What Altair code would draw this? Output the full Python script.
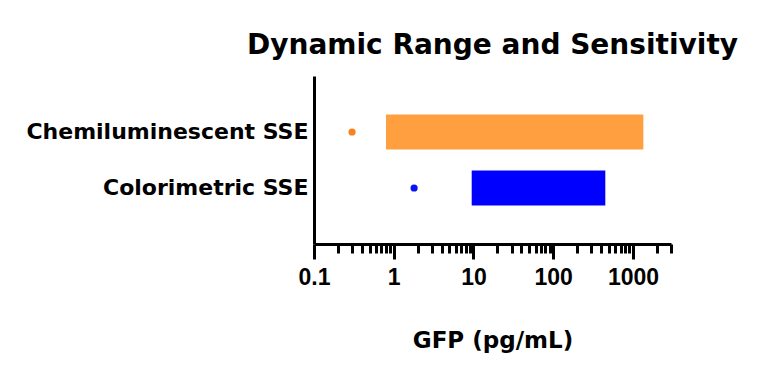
import altair as alt
import pandas as pd

# Assay formats and their measured performance (GFP, pg/mL)
categories = ["Chemiluminescent SSE", "Colorimetric SSE"]
range_low = [0.8, 9.5]
range_high = [1350, 450]
detection_limit = [0.3, 1.8]

bar_colors = ["#FF9F40", "#0000FF"]
point_colors = ["#F7821E", "#0A14F0"]

# Log-axis tick positions: labelled decades plus unlabelled minor ticks
decades = [0.1, 1, 10, 100, 1000]
minor_ticks = [0.2, 0.3, 0.4, 0.5, 0.6, 0.7, 0.8, 0.9,
               2, 3, 4, 5, 6, 7, 8, 9,
               20, 30, 40, 50, 60, 70, 80, 90,
               200, 300, 400, 500, 600, 700, 800, 900,
               2000, 3000]

df = pd.DataFrame({
    "assay": categories,
    "low": range_low,
    "high": range_high,
    "lod": detection_limit,
})

title_font = "DejaVu Sans"
num_font = "Liberation Sans"

decade_test = "indexof([0.1, 1, 10, 100, 1000], datum.value) >= 0"

x_scale = alt.Scale(type="log", domain=[0.1, 3000], nice=False)
y_scale = alt.Scale(paddingInner=0.375, paddingOuter=0.6875)

x_axis = alt.Axis(
    title="GFP (pg/mL)",
    values=sorted(decades + minor_ticks),
    labelExpr=decade_test + " ? format(datum.value, '~g') : ''",
    grid=False,
    domainColor="black",
    domainWidth=3,
    tickColor="black",
    tickWidth=3,
    tickSize=alt.condition(decade_test, alt.value(15), alt.value(9)),
    labelFont=num_font,
    labelFontSize=23,
    labelFontWeight="bold",
    labelColor="black",
    labelPadding=7,
    labelFlush=False,
    labelOverlap=False,
    titleFont=title_font,
    titleFontSize=23,
    titleFontWeight="bold",
    titleColor="black",
    titlePadding=40,
)

y_axis = alt.Axis(
    title=None,
    ticks=False,
    grid=False,
    domainColor="black",
    domainWidth=3,
    labelFont=title_font,
    labelFontSize=22,
    labelFontWeight="bold",
    labelColor="black",
    labelPadding=6,
    labelLimit=400,
)

base = alt.Chart(df)

bars = base.mark_bar(opacity=1).encode(
    x=alt.X("low:Q", scale=x_scale, axis=x_axis),
    x2="high:Q",
    y=alt.Y("assay:N", sort=categories, scale=y_scale, axis=y_axis),
    color=alt.Color("assay:N", scale=alt.Scale(domain=categories, range=bar_colors), legend=None),
)

points = base.mark_circle(size=52, opacity=1).encode(
    x=alt.X("lod:Q", scale=x_scale),
    y=alt.Y("assay:N", sort=categories),
    fill=alt.Fill("assay:N", scale=alt.Scale(domain=categories, range=point_colors), legend=None),
)

chart = (
    alt.layer(bars, points)
    .resolve_scale(color="independent")
    .properties(
        width=357,
        height=168,
        autosize=alt.AutoSizeParams(type="none"),
        padding={"left": 314, "top": 76, "right": 97, "bottom": 133},
        title=alt.TitleParams(
            "Dynamic Range and Sensitivity",
            font=title_font,
            fontSize=28,
            fontWeight="bold",
            color="black",
            anchor="middle",
            frame="group",
            offset=16,
        ),
    )
    .configure(background="white")
    .configure_view(stroke=None, strokeWidth=0)
)

chart.save("out.html", embed_options={"renderer": "svg", "actions": False})
